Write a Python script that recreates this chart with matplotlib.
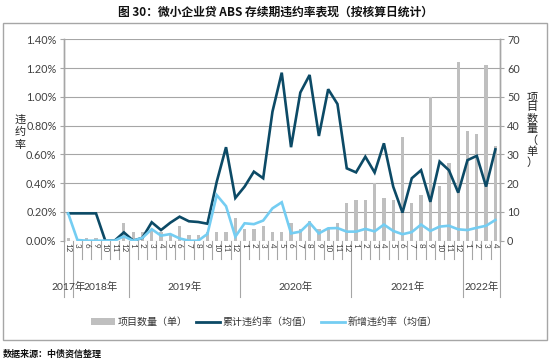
import matplotlib
matplotlib.use('Agg')
import matplotlib.pyplot as plt
import matplotlib.transforms as mtransforms
from matplotlib.patches import Rectangle, Patch
from matplotlib.lines import Line2D
import numpy as np

plt.rcParams['font.family'] = ['Lato', 'Noto Sans CJK SC', 'DejaVu Sans']

# ---------------- data ----------------
years = ['2017年', '2018年', '2019年', '2020年', '2021年', '2022年']
months_by_year = [[12], [3, 6, 9, 10, 11, 12], list(range(1, 13)),
                  list(range(1, 13)), list(range(1, 13)), [1, 2, 3, 4]]
month_labels = [str(m) for ms in months_by_year for m in ms]

project_count = [1, 0, 1, 1, 0, 0, 6, 3, 3, 4, 3, 2, 5, 2, 2, 3, 3, 3, 8,
                 4, 4, 5, 3, 3, 6, 4, 7, 4, 4, 6, 13, 14, 14, 20, 15, 14, 36,
                 13, 16, 50, 19, 27, 62, 38, 37, 61, 33]
cum_default = [0.19, 0.19, 0.19, 0.19, 0.0, 0.0, 0.058, 0.0, 0.02, 0.128,
               0.074, 0.125, 0.167, 0.135, 0.13, 0.118, 0.41, 0.65, 0.297,
               0.376, 0.48, 0.434, 0.897, 1.168, 0.65, 1.03, 1.152, 0.728,
               1.053, 0.95, 0.503, 0.475, 0.584, 0.474, 0.677, 0.376, 0.195,
               0.434, 0.49, 0.27, 0.55, 0.49, 0.334, 0.56, 0.59, 0.376, 0.635]
new_default = [0.19, 0.005, 0.0, 0.0, 0.0, 0.0, 0.03, 0.0, 0.02, 0.08,
               0.035, 0.046, 0.016, 0.0, 0.0, 0.047, 0.317, 0.24, 0.028,
               0.121, 0.115, 0.14, 0.225, 0.267, 0.051, 0.063, 0.125, 0.051,
               0.086, 0.088, 0.063, 0.063, 0.082, 0.065, 0.112, 0.068, 0.045,
               0.06, 0.112, 0.068, 0.098, 0.104, 0.079, 0.074, 0.09, 0.104,
               0.144]

left_ticks = [0.0, 0.2, 0.4, 0.6, 0.8, 1.0, 1.2, 1.4]
right_ticks = [0, 10, 20, 30, 40, 50, 60, 70]

BAR_C = '#BFBFBF'
DARK_C = '#0C4A66'
LIGHT_C = '#74CDF2'
GRID_C = '#A6A6A6'
TXT_C = '#404040'
CJK = ['Noto Sans CJK SC', 'DejaVu Sans']

W, H = 550, 361
fig = plt.figure(figsize=(W / 100, H / 100), dpi=100)

L, R, T, B = 63.5, 500, 39.3, 240.7
ax = fig.add_axes([L / W, 1 - B / H, (R - L) / W, (B - T) / H])
ax2 = ax.twinx()
ax.set_zorder(ax2.get_zorder() + 1)
ax.patch.set_visible(False)

n = len(month_labels)
x = np.arange(n)

ax2.bar(x, project_count, width=0.35, color=BAR_C, zorder=2)
ax.plot(x, cum_default, color=DARK_C, lw=1.9, solid_joinstyle='miter', zorder=3)
ax.plot(x, new_default, color=LIGHT_C, lw=1.9, solid_joinstyle='miter', zorder=3)

ax.set_xlim(-0.5, n - 0.5)
ax.set_ylim(0, 1.4)
ax2.set_ylim(0, 70)

ax.set_yticks(left_ticks)
ax.set_yticklabels([f'{v:.2f}%' for v in left_ticks], fontsize=7.8, color=TXT_C)
ax2.set_yticks(right_ticks)
ax2.set_yticklabels([str(v) for v in right_ticks], fontsize=7.8, color=TXT_C)
ax.tick_params(axis='y', length=3, width=0.8, color=GRID_C, pad=2)
ax2.tick_params(axis='y', length=3, width=0.8, color=GRID_C, pad=2)

ax2.set_axisbelow(True)
ax2.yaxis.grid(True, color=GRID_C, lw=0.8)
ax.set_xticks([])
ax2.set_xticks([])

for a in (ax, ax2):
    a.spines['top'].set_visible(False)
    a.spines['bottom'].set_visible(False)
    a.spines['left'].set_color(GRID_C)
    a.spines['right'].set_color(GRID_C)
    a.spines['left'].set_linewidth(1.0)
    a.spines['right'].set_linewidth(1.0)

# category axis with two levels
trans = mtransforms.blended_transform_factory(ax.transData, ax.transAxes)
year_bounds = [0]
for ms in months_by_year:
    year_bounds.append(year_bounds[-1] + len(ms))
for k in range(n + 1):
    bottom = -0.28 if k in year_bounds else -0.09
    ax.plot([k - 0.5, k - 0.5], [0, bottom], transform=trans, color=GRID_C,
            lw=0.8, clip_on=False, zorder=1)
for i, lab in enumerate(month_labels):
    ax.text(i, -0.012, lab, transform=trans, rotation=270, ha='center',
            va='top', fontsize=5.8, color=TXT_C)
for yi, yl in enumerate(years):
    c = (year_bounds[yi] + year_bounds[yi + 1] - 1) / 2
    ax.text(c, -0.23, yl, transform=trans, ha='center', va='center',
            fontsize=7.5, color=TXT_C)

# axis titles (stacked vertical text)
fig.text(20 / W, 1 - 132 / H, '\n'.join('违约率'), ha='center', va='center',
         fontsize=8, color='#222222', family=CJK, linespacing=1.3)
fig.text(532 / W, 1 - 130 / H, '\n'.join('项目数量（单）'), ha='center',
         va='center', fontsize=8, color='#222222', family=CJK, linespacing=1.1)

# legend
handles = [Patch(facecolor=BAR_C, edgecolor='none'),
           Line2D([], [], color=DARK_C, lw=2.0),
           Line2D([], [], color=LIGHT_C, lw=2.0)]
labels = ['项目数量（单）', '累计违约率（均值）', '新增违约率（均值）']
fig.legend(handles, labels, loc='center', bbox_to_anchor=(0.48, 1 - 322 / H),
           ncol=3, frameon=False, prop={'family': CJK, 'size': 7.2},
           handlelength=2.4, handleheight=0.6, columnspacing=0.8,
           handletextpad=0.3, labelcolor='#333333')

# frame
fig.patches.append(Rectangle((3 / W, 1 - 340 / H), 544 / W, 317 / H,
                             transform=fig.transFigure, fill=False,
                             edgecolor=GRID_C, lw=1.0))

# title and source
fig.text(0.5, 1 - 12 / H, '图 30：微小企业贷 ABS 存续期违约率表现（按核算日统计）',
         ha='center', va='center', fontsize=8.5, fontweight='bold',
         family=CJK, color='#111111')
fig.text(3 / W, 1 - 354 / H, '数据来源：中债资信整理', ha='left', va='center',
         fontsize=6.5, fontweight='bold', family=CJK, color='#111111')

fig.savefig('out.png', dpi=100)
